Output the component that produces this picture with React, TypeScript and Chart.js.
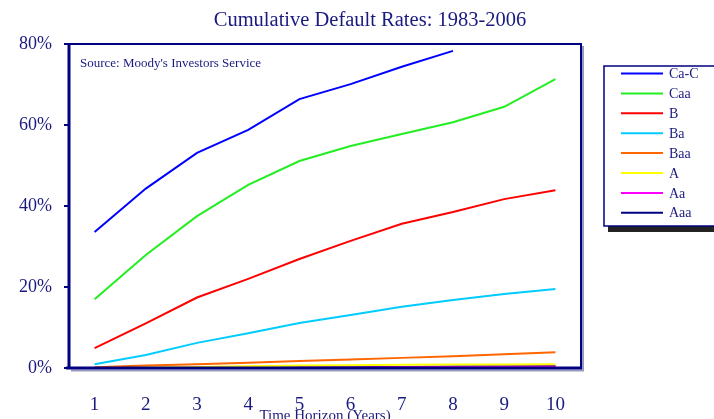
import React, { useEffect, useRef } from "react";
import { Chart, registerables } from "chart.js";

Chart.register(...registerables);

const years = ["1", "2", "3", "4", "5", "6", "7", "8", "9", "10"];
const seriesNames = ["Ca-C", "Caa", "B", "Ba", "Baa", "A", "Aa", "Aaa"];
const seriesColors = ["#0000ff", "#22ee22", "#ff0000", "#00ccff", "#ff6600", "#ffff00", "#ff00ff", "#000080"];
const caC = [33.6, 44.3, 53.1, 58.8, 66.4, 70.1, 74.4, 78.3, null, null];
const caa = [17.0, 27.9, 37.5, 45.2, 51.1, 54.8, 57.8, 60.7, 64.5, 71.3];
const b = [4.9, 11.0, 17.4, 22.0, 26.9, 31.4, 35.6, 38.5, 41.7, 43.9];
const ba = [0.9, 3.2, 6.2, 8.6, 11.1, 13.1, 15.1, 16.8, 18.3, 19.5];
const baa = [0.2, 0.6, 0.9, 1.3, 1.7, 2.1, 2.5, 2.9, 3.4, 3.9];
const a = [0.02, 0.1, 0.25, 0.45, 0.6, 0.7, 0.8, 0.85, 0.88, 0.9];
const aa = [0.0, 0.02, 0.03, 0.06, 0.1, 0.15, 0.2, 0.25, 0.3, 0.35];
const aaa = [0, 0, 0, 0.03, 0.1, 0.17, 0.25, 0.34, 0.43, 0.52];
const yTicks = [0, 20, 40, 60, 80];
const titleText = "Cumulative Default Rates: 1983-2006";
const sourceText = "Source: Moody's Investors Service";
const xTitle = "Time Horizon (Years)";

const NAVY = "#1a1a80";
const FONT = "'Liberation Serif', 'DejaVu Serif', serif";

const decor = {
  id: "decor",
  afterDraw(chart: any) {
    const { ctx, chartArea } = chart;
    const { left, right, top, bottom } = chartArea;
    ctx.save();
    // shadows
    ctx.strokeStyle = "#9a9ac0";
    ctx.lineWidth = 2;
    ctx.beginPath();
    ctx.moveTo(right + 2, top + 2);
    ctx.lineTo(right + 2, bottom + 3);
    ctx.moveTo(left + 2, bottom + 2.5);
    ctx.lineTo(right + 3, bottom + 2.5);
    ctx.stroke();
    // frame
    ctx.strokeStyle = "#000080";
    ctx.lineWidth = 2;
    ctx.beginPath();
    ctx.moveTo(left - 1, top);
    ctx.lineTo(right, top);
    ctx.lineTo(right, bottom);
    ctx.stroke();
    ctx.lineWidth = 3;
    ctx.beginPath();
    ctx.moveTo(left, top - 1);
    ctx.lineTo(left, bottom + 1);
    ctx.moveTo(left - 3, bottom);
    ctx.lineTo(right + 1, bottom);
    ctx.stroke();

    // title
    ctx.fillStyle = NAVY;
    ctx.font = `20.5px ${FONT}`;
    ctx.textAlign = "center";
    ctx.textBaseline = "middle";
    ctx.fillText(titleText, 370, 21);

    // source
    ctx.font = `13px ${FONT}`;
    ctx.textAlign = "left";
    ctx.fillText(sourceText, 80, 64);

    // legend
    const lx = 604, ly = 66, lw = 130, lh = 160;
    ctx.fillStyle = "#222222";
    ctx.fillRect(lx + 4, ly + lh, lw, 6);
    ctx.fillRect(lx + lw, ly + 4, 6, lh);
    ctx.fillStyle = "#ffffff";
    ctx.fillRect(lx, ly, lw, lh);
    ctx.strokeStyle = "#000080";
    ctx.lineWidth = 1.5;
    ctx.strokeRect(lx, ly, lw, lh);
    ctx.font = `14px ${FONT}`;
    ctx.textBaseline = "middle";
    chart.data.datasets.forEach((ds: any, i: number) => {
      const y = 73.5 + i * 19.9;
      ctx.strokeStyle = ds.borderColor;
      ctx.lineWidth = 2;
      ctx.beginPath();
      ctx.moveTo(621, y);
      ctx.lineTo(663, y);
      ctx.stroke();
      ctx.fillStyle = NAVY;
      ctx.fillText(ds.label, 669, y + 1);
    });
    ctx.restore();
  },
};

export default function App() {
  const ref = useRef<HTMLCanvasElement>(null);
  useEffect(() => {
    const allData = [caC, caa, b, ba, baa, a, aa, aaa];
    const chart = new Chart(ref.current!, {
      type: "line",
      data: {
        labels: years,
        datasets: seriesNames.map((name, i) => ({
          label: name,
          data: allData[i],
          borderColor: seriesColors[i],
          backgroundColor: seriesColors[i],
          borderWidth: 2,
          pointRadius: 0,
          tension: 0,
          fill: false,
        })),
      },
      options: {
        responsive: false,
        animation: false,
        devicePixelRatio: 1,
        layout: { padding: { top: 44, right: 133, bottom: 0, left: 0 } },
        plugins: { legend: { display: false }, title: { display: false }, tooltip: { enabled: false } },
        scales: {
          x: {
            type: "category",
            offset: true,
            grid: { display: false, drawTicks: false },
            border: { display: false },
            ticks: { font: { family: FONT, size: 19 }, color: NAVY, padding: 26, maxRotation: 0 },
            title: {
              display: true,
              text: xTitle,
              font: { family: FONT, size: 15, lineHeight: 0.4 },
              color: NAVY,
              padding: 0,
            },
            afterFit: (s: any) => {
              s.height = 51;
            },
          },
          y: {
            min: 0,
            max: 80,
            afterBuildTicks: (s: any) => {
              s.ticks = yTicks.map((v) => ({ value: v }));
            },
            grid: { drawOnChartArea: false, drawTicks: true, tickLength: 5, color: "#000080", lineWidth: 2 },
            border: { display: false },
            ticks: {
              font: { family: FONT, size: 18 },
              color: NAVY,
              padding: 12,
              callback: (v: any) => v + "%",
            },
            afterFit: (s: any) => {
              s.width = 69;
            },
          },
        },
      },
      plugins: [decor],
    });
    return () => chart.destroy();
  }, []);
  return (
    <div style={{ position: "absolute", left: 0, top: 0, width: 714, height: 419, background: "#fff" }}>
      <canvas ref={ref} width={714} height={419} style={{ width: 714, height: 419 }} />
    </div>
  );
}
